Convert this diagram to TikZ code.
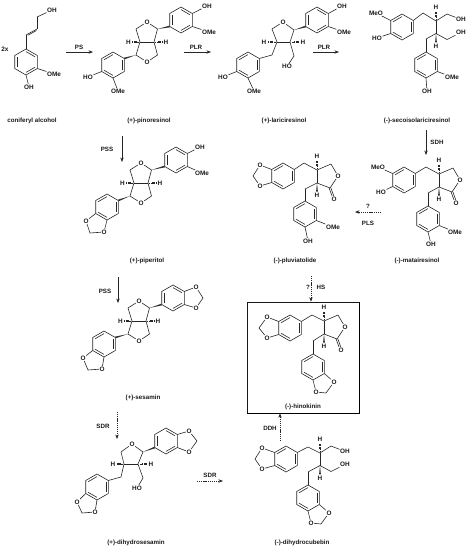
\documentclass[tikz,border=0pt]{standalone}
\usepackage{fontspec}
\setmainfont{Liberation Sans}
\usetikzlibrary{calc,arrows.meta}
\tikzset{
  bond/.style={line width=0.6pt,draw=black!85},
  atomlbl/.style={inner sep=0.5pt,font=\bfseries\fontsize{6.4}{7}\selectfont,text=black!90},
  cpdlbl/.style={inner sep=0.5pt,font=\bfseries\fontsize{6.2}{7}\selectfont,text=black!90},
  rxn/.style={line width=0.6pt,draw=black!85,-{Stealth[length=4.5pt,width=3.4pt]}},
  drxn/.style={rxn,dash pattern=on 1.2pt off 0.9pt},
}
\newcommand{\Rg}[3]{%
  \coordinate (#1-c) at (#2,#3);
  \coordinate (#1-1) at (#2,#3-13);
  \coordinate (#1-2) at (#2+11.3,#3-6.5);
  \coordinate (#1-3) at (#2+11.3,#3+6.5);
  \coordinate (#1-4) at (#2,#3+13);
  \coordinate (#1-5) at (#2-11.3,#3+6.5);
  \coordinate (#1-6) at (#2-11.3,#3-6.5);
  \draw[bond,line join=round] (#1-1)--(#1-2)--(#1-3)--(#1-4)--(#1-5)--(#1-6)--cycle;}
\newcommand{\In}[3]{\draw[bond] ($(#1-c)!0.8!(#1-#2)$) -- ($(#1-c)!0.8!(#1-#3)$);}
\newcommand{\RgA}[3]{\Rg{#1}{#2}{#3}\In{#1}{1}{2}\In{#1}{3}{4}\In{#1}{5}{6}}
\newcommand{\RgB}[3]{\Rg{#1}{#2}{#3}\In{#1}{2}{3}\In{#1}{4}{5}\In{#1}{6}{1}}
\newcommand{\At}[4]{\node[atomlbl] (#1) at (#2,#3) {#4};}
\newcommand{\Cd}[3]{\coordinate (#1) at (#2,#3);}
\newcommand{\Bd}[2]{\draw[bond] (#1) -- (#2);}
% wedge from a (narrow) towards b, full length
\newcommand{\Wd}[2]{\fill[black!80] (#1) -- ($(#2)!0.9pt!90:(#1)$) -- ($(#2)!0.9pt!-90:(#1)$) -- cycle;}
% solid wedge and hashed wedge towards an H label
\newcommand{\HW}[2]{\coordinate (tw) at ($(#1)!0.68!(#2)$);\Wd{#1}{tw}}
\newcommand{\HH}[2]{\coordinate (tw) at ($(#1)!0.68!(#2)$);
  \coordinate (tl) at ($(tw)!1.3pt!90:(#1)$);\coordinate (tr) at ($(tw)!1.3pt!-90:(#1)$);
  \foreach \t in {0.2,0.35,0.5,0.65,0.8,0.95}{\draw[line width=0.45pt,black!85] ($(#1)!\t!(tl)$) -- ($(#1)!\t!(tr)$);}}
% furofuran core, origin at left bridgehead
\newcommand{\Furo}[3]{%
  \Cd{#1-a}{#2}{#3}\Cd{#1-b}{#2+14}{#3}
  \Cd{#1-l}{#2-4}{#3-13}\At{#1-O}{#2+7}{#3-20}{O}\Cd{#1-r}{#2+17.5}{#3-13}
  \Cd{#1-m}{#2-4}{#3+13}\At{#1-P}{#2+7}{#3+20}{O}\Cd{#1-n}{#2+17.5}{#3+13}
  \At{#1-H}{#2-11.5}{#3}{H}\At{#1-I}{#2+26}{#3}{H}
  \Bd{#1-a}{#1-b}\Bd{#1-a}{#1-l}\Bd{#1-l}{#1-O}\Bd{#1-O}{#1-r}\Bd{#1-r}{#1-b}
  \Bd{#1-a}{#1-m}\Bd{#1-m}{#1-P}\Bd{#1-P}{#1-n}\Bd{#1-n}{#1-b}
  \HH{#1-a}{#1-H}\HH{#1-b}{#1-I}}
% gamma-butyrolactone, origin at upper stereocentre
\newcommand{\Lact}[3]{%
  \Cd{#1-a}{#2}{#3}\Cd{#1-e}{#2+14}{#3-6}\At{#1-O}{#2+21}{#3+6}{O}
  \Cd{#1-f}{#2+13}{#3+18}\At{#1-Q}{#2+17}{#3+29}{O}\Cd{#1-b}{#2}{#3+13}
  \At{#1-H}{#2}{#3-14}{H}\At{#1-I}{#2}{#3+25.5}{H}
  \Bd{#1-a}{#1-e}\Bd{#1-e}{#1-O}\Bd{#1-O}{#1-f}\Bd{#1-f}{#1-b}\Bd{#1-a}{#1-b}
  \draw[bond,transform canvas={xshift=-0.9pt}] (#1-f) -- (#1-Q);
  \draw[bond,transform canvas={xshift=0.9pt}] (#1-f) -- (#1-Q);
  \HH{#1-a}{#1-H}\HW{#1-b}{#1-I}}
% 1,4-diol chain, origin at upper stereocentre
\newcommand{\Diol}[3]{%
  \Cd{#1-a}{#2}{#3}\Cd{#1-e}{#2+11}{#3-7}\At{#1-O}{#2+25}{#3-1.5}{OH}
  \Cd{#1-b}{#2}{#3+12.5}\Cd{#1-f}{#2+11}{#3+18.5}\At{#1-Q}{#2+25}{#3+11.5}{OH}
  \At{#1-H}{#2}{#3-14}{H}\At{#1-I}{#2}{#3+25.5}{H}
  \Bd{#1-a}{#1-e}\Bd{#1-e}{#1-O}\Bd{#1-a}{#1-b}\Bd{#1-b}{#1-f}\Bd{#1-f}{#1-Q}
  \HH{#1-a}{#1-H}\HW{#1-b}{#1-I}}
% methylenedioxy ring on ring vertices
\newcommand{\Dx}[9]{%
  \At{#1-X}{#4}{#5}{O}\At{#1-Y}{#6}{#7}{O}\Cd{#1-Z}{#8}{#9}
  \Bd{#2}{#1-X}\Bd{#1-X}{#1-Z}\Bd{#1-Z}{#1-Y}\Bd{#1-Y}{#3}}
\begin{document}
\begin{tikzpicture}[x=1pt,y=-1pt]
\useasboundingbox (0,0) rectangle (468,550);

%% coniferyl alcohol
\At{two}{5}{49}{2x}
\RgA{ca}{26}{62}
\Cd{ca-u}{26}{35}\Cd{ca-v}{37}{29}\Cd{ca-w}{37}{17}
\At{ca-OH}{52}{10}{OH}\At{ca-OM}{54}{74}{OMe}\At{ca-HO}{29}{87}{OH}
\Bd{ca-1}{ca-u}\Bd{ca-u}{ca-v}\Bd{ca-v}{ca-w}\Bd{ca-w}{ca-OH}\Bd{ca-3}{ca-OM}\Bd{ca-4}{ca-HO}
\draw[bond] (28,35.2) -- (36.5,30.5);
\node[cpdlbl] (n-ca) at (32,121) {coniferyl alcohol};

%% pinoresinol
\Furo{pf}{140}{42}
\RgA{pa}{181}{20}\RgB{pb}{113}{65}
\Wd{pf-r}{pa-5}\Wd{pf-m}{pb-2}
\At{pa-OH}{207}{6}{OH}\At{pa-OM}{209}{32}{OMe}\At{pb-HO}{88}{77}{HO}\At{pb-OM}{118}{91}{OMe}
\Bd{pa-2}{pa-OH}\Bd{pa-3}{pa-OM}\Bd{pb-5}{pb-HO}\Bd{pb-4}{pb-OM}
\node[cpdlbl] (n-pi) at (149,121) {(+)-pinoresinol};

%% lariciresinol
\At{lO}{283}{22}{O}\Cd{ll}{272}{29}\Cd{la}{277}{42}\Cd{lb}{290}{42}\Cd{lr}{294}{30}
\Bd{ll}{lO}\Bd{lO}{lr}\Bd{lr}{lb}\Bd{lb}{la}\Bd{la}{ll}
\At{lH}{264}{42}{H}\At{lI}{303}{42}{H}\HH{la}{lH}\HH{lb}{lI}
\RgA{lc}{317}{20}\RgB{ld}{248}{65}
\Wd{lr}{lc-5}
\Cd{le}{294}{56}\At{lHO}{287}{66.5}{HO}\Bd{lb}{le}\Bd{le}{lHO}
\Cd{lf}{272}{55}\Bd{la}{lf}\Bd{lf}{ld-2}
\At{lc-OH}{342}{6}{OH}\At{lc-OM}{344}{32}{OMe}\At{ld-HO}{223}{77}{HO}\At{ld-OM}{254}{91}{OMe}
\Bd{lc-2}{lc-OH}\Bd{lc-3}{lc-OM}\Bd{ld-5}{ld-HO}\Bd{ld-4}{ld-OM}
\node[cpdlbl] (n-la) at (284,121) {(+)-lariciresinol};

%% secoisolariciresinol
\Diol{sd}{436}{21}
\RgB{sa}{402}{27}\RgB{sb}{426}{65}
\Cd{sp}{423}{13}\Bd{sa-2}{sp}\Bd{sp}{sd-a}
\Cd{sq}{426}{39}\Bd{sd-b}{sq}\Bd{sq}{sb-1}
\At{sa-OM}{376}{13}{MeO}\At{sa-HO}{377}{38}{HO}\Bd{sa-6}{sa-OM}\Bd{sa-5}{sa-HO}
\At{sb-OM}{452}{77}{OMe}\At{sb-HO}{427}{91}{OH}\Bd{sb-3}{sb-OM}\Bd{sb-4}{sb-HO}
\node[cpdlbl] (n-se) at (417,121) {(-)-secoisolariciresinol};

%% matairesinol
\Lact{mt}{439}{174}
\RgB{ma}{404}{180}\RgB{mb}{428}{219}
\Cd{mp}{426}{167}\Bd{ma-2}{mp}\Bd{mp}{mt-a}
\Cd{mq}{428}{193}\Bd{mt-b}{mq}\Bd{mq}{mb-1}
\At{ma-OM}{378}{167}{MeO}\At{ma-HO}{381}{192}{HO}\Bd{ma-6}{ma-OM}\Bd{ma-5}{ma-HO}
\At{mb-OM}{455}{232}{OMe}\At{mb-HO}{431}{244}{OH}\Bd{mb-3}{mb-OM}\Bd{mb-4}{mb-HO}
\node[cpdlbl] (n-ma) at (417,261) {(-)-matairesinol};

%% pluviatolide
\Lact{pv}{317}{170}
\RgB{va}{283}{176}\RgB{vb}{305}{214}
\Dx{vx}{va-6}{va-5}{260}{165}{260}{186}{253}{176}
\Cd{vp}{304}{163}\Bd{va-2}{vp}\Bd{vp}{pv-a}
\Cd{vq}{305}{189}\Bd{pv-b}{vq}\Bd{vq}{vb-1}
\At{vb-OM}{333}{227}{OMe}\At{vb-HO}{308}{241}{OH}\Bd{vb-3}{vb-OM}\Bd{vb-4}{vb-HO}
\node[cpdlbl] (n-pl) at (295,261) {(-)-pluviatolide};

%% piperitol
\Furo{if}{134}{183}
\RgA{ia}{176}{160}\RgB{ib}{107}{207}
\Wd{if-r}{ia-5}\Wd{if-m}{ib-2}
\At{ia-OH}{200}{147}{OH}\At{ia-OM}{202}{173}{OMe}\Bd{ia-2}{ia-OH}\Bd{ia-3}{ia-OM}
\Dx{ix}{ib-5}{ib-4}{86}{221}{104}{232}{90}{233}
\node[cpdlbl] (n-pp) at (147,261) {(+)-piperitol};

%% sesamin
\Furo{ef}{132}{321}
\RgA{ea}{173}{298}\RgB{eb}{104}{344}
\Wd{ef-r}{ea-5}\Wd{ef-m}{eb-2}
\Dx{ex}{ea-2}{ea-3}{196}{287}{196}{308}{203}{298}
\Dx{ey}{eb-5}{eb-4}{83}{358}{102}{369}{88}{370}
\node[cpdlbl] (n-es) at (143,398) {(+)-sesamin};

%% dihydrosesamin
\At{dO}{132}{444}{O}\Cd{dl}{121}{452}\Cd{da}{124}{464}\Cd{db}{138}{464}\Cd{dr}{143}{452}
\Bd{dl}{dO}\Bd{dO}{dr}\Bd{dr}{db}\Bd{db}{da}\Bd{da}{dl}
\At{dH}{113}{464}{H}\At{dI}{151}{464}{H}\HH{da}{dH}\HH{db}{dI}
\RgA{dc}{166}{441}\RgB{dd}{97}{487}
\Wd{dr}{dc-5}
\Dx{dx}{dc-2}{dc-3}{189}{431}{189}{452}{197}{441}
\Dx{dy}{dd-5}{dd-4}{77}{502}{95}{512}{82}{513}
\Cd{de}{143}{478}\At{dHO}{137}{488}{HO}\Bd{db}{de}\Bd{de}{dHO}
\Cd{df}{121}{477}\Bd{da}{df}\Bd{df}{dd-2}
\node[cpdlbl] (n-ds) at (136,543) {(+)-dihydrosesamin};

%% dihydrocubebin
\Diol{cd}{320}{453}
\RgB{ga}{286}{459}\RgB{gb}{308}{498}
\Dx{gx}{ga-6}{ga-5}{262}{448}{262}{469}{255}{459}
\Dx{gy}{gb-3}{gb-4}{329}{513}{311}{523}{321}{524}
\Cd{gp}{308}{447}\Bd{ga-2}{gp}\Bd{gp}{cd-a}
\Cd{gq}{308}{472}\Bd{cd-b}{gq}\Bd{gq}{gb-1}
\node[cpdlbl] (n-cu) at (302,543) {(-)-dihydrocubebin};

%% hinokinin with frame
\node[draw=black!90,line width=0.7pt,minimum width=112pt,minimum height=111pt,inner sep=0pt] (box) at (303,357.5) {};
\draw[black,line width=1.3pt] (box.north east) -- (box.south east) -- (box.south west);
\Lact{hk}{324}{321}
\RgB{ha}{290}{328}\RgB{hb}{313}{367}
\Dx{hx}{ha-6}{ha-5}{267}{317}{267}{338}{259}{328}
\Dx{hy}{hb-3}{hb-4}{334}{382}{316}{392}{326}{393}
\Cd{hp}{312}{315}\Bd{ha-2}{hp}\Bd{hp}{hk-a}
\Cd{hq}{313}{341}\Bd{hk-b}{hq}\Bd{hq}{hb-1}
\node[cpdlbl] (n-hi) at (303,407) {(-)-hinokinin};

%% reaction arrows
\Cd{r1a}{66}{52}\Cd{r1b}{93}{52}\draw[rxn] (r1a) -- (r1b);
\node[cpdlbl] (e-ps) at (79,47) {PS};
\Cd{r2a}{184}{52}\Cd{r2b}{211}{52}\draw[rxn] (r2a) -- (r2b);
\node[cpdlbl] (e-plr1) at (196,47.5) {PLR};
\Cd{r3a}{313}{52}\Cd{r3b}{339}{52}\draw[rxn] (r3a) -- (r3b);
\node[cpdlbl] (e-plr2) at (324,47.5) {PLR};
\Cd{r4a}{426}{130}\Cd{r4b}{426}{155}\draw[rxn] (r4a) -- (r4b);
\node[cpdlbl] (e-sdh) at (437,142) {SDH};
\Cd{r5a}{381}{212}\Cd{r5b}{355}{212}\draw[drxn] (r5a) -- (r5b);
\node[cpdlbl] (e-q1) at (368,206) {?};
\node[cpdlbl] (e-pls) at (368,223) {PLS};
\Cd{r6a}{122}{136}\Cd{r6b}{122}{162}\draw[rxn] (r6a) -- (r6b);
\node[cpdlbl] (e-pss1) at (107,149) {PSS};
\Cd{r7a}{118}{277}\Cd{r7b}{118}{303}\draw[rxn] (r7a) -- (r7b);
\node[cpdlbl] (e-pss2) at (105,291) {PSS};
\Cd{r8a}{117}{412}\Cd{r8b}{117}{439}\draw[drxn] (r8a) -- (r8b);
\node[cpdlbl] (e-sdr1) at (103,426) {SDR};
\Cd{r9a}{197}{481}\Cd{r9b}{223}{481}\draw[drxn] (r9a) -- (r9b);
\node[cpdlbl] (e-sdr2) at (210,475) {SDR};
\Cd{r10a}{280}{441}\draw[drxn] (r10a) -- (r10a |- box.south);
\node[cpdlbl] (e-ddh) at (270,428) {DDH};
\Cd{r11a}{311}{276}\draw[drxn] (r11a) -- (r11a |- box.north);
\node[cpdlbl] (e-q2) at (308,287) {?};
\node[cpdlbl] (e-hs) at (321,287) {HS};
\end{tikzpicture}
\end{document}
